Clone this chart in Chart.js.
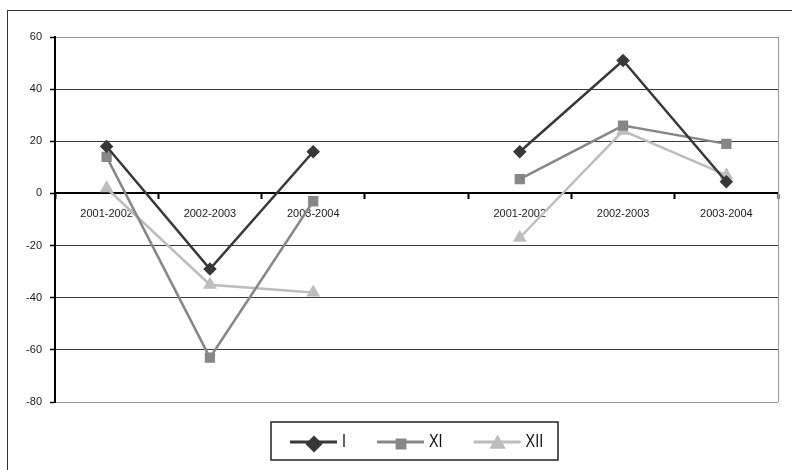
<!DOCTYPE html>
<html>
<head>
<meta charset="utf-8">
<script src="https://cdn.jsdelivr.net/npm/chart.js@4/dist/chart.umd.min.js"></script>
<style>
  html, body { margin: 0; padding: 0; background: #fff; overflow: hidden; }
  #cornice { position: absolute; left: 7px; top: 10px; width: 800px; height: 480px; border: 1px solid #333; }
  #grafico { position: absolute; left: 0; top: 0; }
</style>
</head>
<body>
<div id="cornice"></div>
<canvas id="grafico" width="792" height="470"></canvas>
<script>
// periodi: due blocchi di tre anni, con una colonna vuota in mezzo
var periodi = ['2001-2002', '2002-2003', '2003-2004', '', '2001-2002', '2002-2003', '2003-2004']
var serieI = [18, -29, 16, null, 16, 51, 4.5]
var serieXI = [14, -63, -3, null, 5.5, 26, 19]
var serieXII = [2, -35, -38, null, -17, 24, 7]
var yMin = -80
var yMax = 60
var yPasso = 20

var fontTesto = '"Liberation Sans", Arial, sans-serif'

// bordo destro grigio dell'area del grafico
var bordoArea = {
  id: 'bordoArea',
  beforeDatasetsDraw: function(chart) {
    var a = chart.chartArea
    var ctx = chart.ctx
    ctx.save()
    ctx.strokeStyle = '#999'
    ctx.lineWidth = 1
    ctx.beginPath()
    ctx.moveTo(Math.round(a.right) + 0.5, a.top)
    ctx.lineTo(Math.round(a.right) + 0.5, a.bottom)
    ctx.stroke()
    ctx.restore()
  }
}

// legenda a riquadro con linea + marcatore, come nei grafici di Excel
var legendaBox = {
  id: 'legendaBox',
  afterDraw: function(chart) {
    var ctx = chart.ctx
    var bx = 271, by = 422, bw = 287, bh = 38
    var stretto = 0.8  // testo compresso in orizzontale (tipo "narrow")
    ctx.save()
    ctx.strokeStyle = '#222'
    ctx.lineWidth = 1.5
    ctx.strokeRect(bx, by, bw, bh)

    ctx.font = '18px ' + fontTesto
    ctx.textBaseline = 'middle'
    var x = 290
    var y = by + bh / 2 + 1
    chart.data.datasets.forEach(function(ds) {
      ctx.strokeStyle = ds.borderColor
      ctx.lineWidth = 3
      ctx.beginPath()
      ctx.moveTo(x, y)
      ctx.lineTo(x + 47, y)
      ctx.stroke()
      ctx.fillStyle = ds.borderColor
      ctx.strokeStyle = ds.borderColor
      Chart.helpers.drawPoint(ctx, {
        pointStyle: ds.pointStyle,
        radius: ds.legendRadius,
        rotation: 0,
        borderWidth: 1
      }, x + 24, y + 2)

      ctx.save()
      ctx.translate(x + 52, y)
      ctx.scale(stretto, 1)
      ctx.fillStyle = '#111'
      ctx.fillText(ds.label, 0, 0)
      ctx.restore()
      x += 52 + ctx.measureText(ds.label).width * stretto + 31
    })
    ctx.restore()
  }
}

function showGrafico() {
  var ctx = document.getElementById('grafico').getContext('2d')

  new Chart(ctx, {
    type: 'line',
    data: {
      labels: periodi,
      datasets: [{
        label: 'I',
        data: serieI,
        borderColor: '#383838',
        backgroundColor: '#383838',
        pointBackgroundColor: '#383838',
        pointStyle: 'rectRot',
        pointRadius: 5,
        legendRadius: 6.5,
        borderWidth: 2.5
      }, {
        label: 'XI',
        data: serieXI,
        borderColor: '#878787',
        backgroundColor: '#878787',
        pointBackgroundColor: '#878787',
        pointStyle: 'rect',
        pointRadius: 5.5,
        legendRadius: 5.5,
        borderWidth: 2.5
      }, {
        label: 'XII',
        data: serieXII,
        borderColor: '#bdbdbd',
        backgroundColor: '#bdbdbd',
        pointBackgroundColor: '#bdbdbd',
        pointStyle: 'triangle',
        pointRadius: 5.5,
        legendRadius: 6.5,
        borderWidth: 2.5
      }]
    },
    options: {
      responsive: false,
      animation: false,
      devicePixelRatio: 1,
      spanGaps: false,
      layout: {
        padding: { left: 7, right: 14, top: 37, bottom: 68 }
      },
      plugins: {
        legend: { display: false },
        tooltip: { enabled: false }
      },
      scales: {
        x: {
          type: 'category',
          position: { y: 0 },
          offset: true,
          grid: {
            offset: true,
            drawOnChartArea: false,
            drawTicks: true,
            tickLength: 5,
            tickColor: '#000',
            tickWidth: 2
          },
          border: { color: '#000', width: 2 },
          ticks: {
            padding: 9,
            autoSkip: false,
            maxRotation: 0,
            color: '#1a1a1a',
            font: { family: fontTesto, size: 11 }
          }
        },
        y: {
          min: yMin,
          max: yMax,
          afterFit: function(scale) { scale.width = 48 },
          grid: {
            color: function(c) {
              var v = c.tick.value
              if (v === yMax || v === yMin) return '#9a9a9a'
              if (v === 0) return '#000'
              return '#3a3a3a'
            },
            lineWidth: 1,
            tickLength: 5,
            tickColor: '#000',
            tickWidth: 1.5
          },
          border: { color: '#000', width: 2 },
          ticks: {
            stepSize: yPasso,
            padding: 8,
            color: '#1a1a1a',
            font: { family: fontTesto, size: 11 }
          }
        }
      }
    },
    plugins: [bordoArea, legendaBox]
  })
}

showGrafico()
</script>
</body>
</html>
